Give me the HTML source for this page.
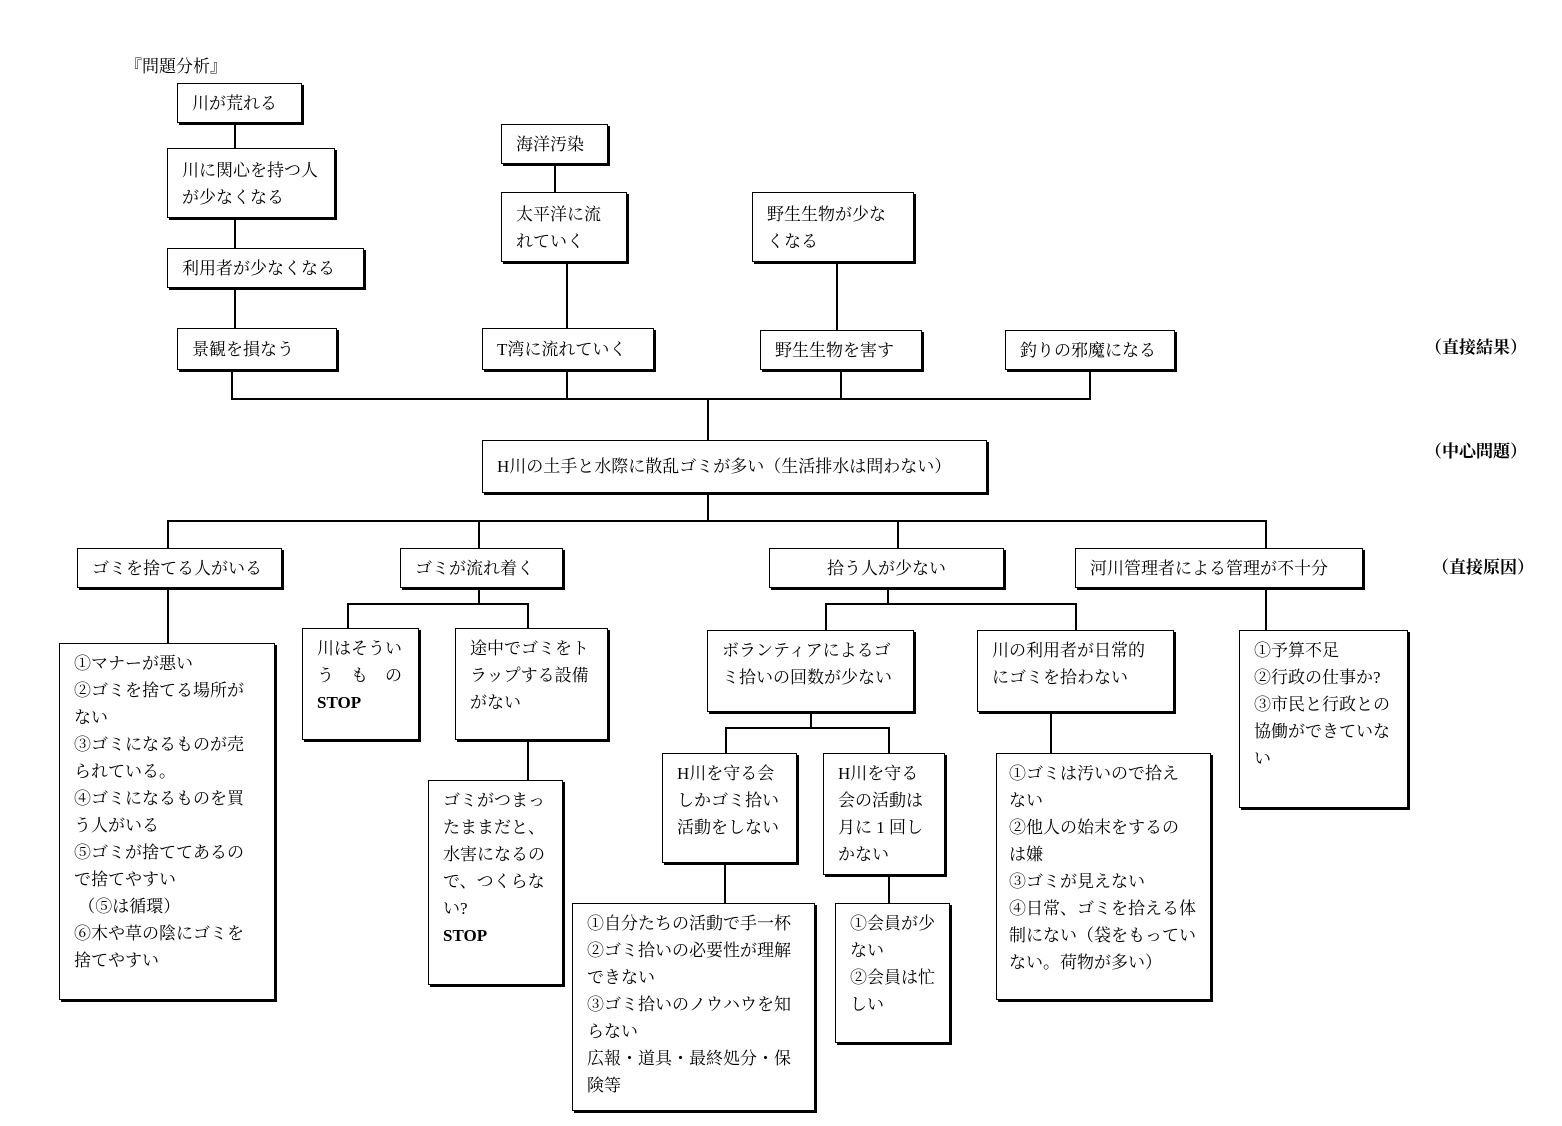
<!DOCTYPE html>
<html><head><meta charset="utf-8"><style>
body{margin:0;background:#fff;}
#c{position:relative;width:1562px;height:1126px;overflow:hidden;font-family:"Liberation Serif","Noto Serif CJK SC","Noto Sans CJK JP",serif;font-size:17px;color:#000;}
.b{position:absolute;border:1.5px solid #000;box-shadow:2px 2px 0 #000;box-sizing:border-box;background:#fff;padding:6px 14px;line-height:27px;}
.c{display:flex;align-items:center;}
.l{position:absolute;background:#000;}
.t{position:absolute;font-weight:bold;}
</style></head><body><div id="c">
<div class="t" style="left:125px;top:52px;font-weight:normal">『問題分析』</div>
<div class="t" style="left:1425px;top:333px">（直接結果）</div>
<div class="t" style="left:1425px;top:437px">（中心問題）</div>
<div class="t" style="left:1432px;top:553px">（直接原因）</div>

<div class="l" style="left:234px;top:123px;width:1.5px;height:25px"></div>
<div class="l" style="left:234px;top:218px;width:1.5px;height:30px"></div>
<div class="l" style="left:234px;top:288px;width:1.5px;height:40px"></div>
<div class="l" style="left:554px;top:164px;width:1.5px;height:28px"></div>
<div class="l" style="left:566px;top:262px;width:1.5px;height:66px"></div>
<div class="l" style="left:836px;top:262px;width:1.5px;height:68px"></div>
<div class="l" style="left:231px;top:398px;width:860px;height:1.5px"></div>
<div class="l" style="left:231px;top:370px;width:1.5px;height:28px"></div>
<div class="l" style="left:566px;top:370px;width:1.5px;height:28px"></div>
<div class="l" style="left:840px;top:370px;width:1.5px;height:28px"></div>
<div class="l" style="left:1089px;top:370px;width:1.5px;height:28px"></div>
<div class="l" style="left:707px;top:398px;width:1.5px;height:42px"></div>
<div class="l" style="left:707px;top:493px;width:1.5px;height:27px"></div>
<div class="l" style="left:167px;top:520px;width:1099px;height:1.5px"></div>
<div class="l" style="left:167px;top:520px;width:1.5px;height:28px"></div>
<div class="l" style="left:478px;top:520px;width:1.5px;height:28px"></div>
<div class="l" style="left:897px;top:520px;width:1.5px;height:28px"></div>
<div class="l" style="left:1265px;top:520px;width:1.5px;height:28px"></div>
<div class="l" style="left:167px;top:588px;width:1.5px;height:55px"></div>
<div class="l" style="left:478px;top:588px;width:1.5px;height:15px"></div>
<div class="l" style="left:347px;top:603px;width:181px;height:1.5px"></div>
<div class="l" style="left:347px;top:603px;width:1.5px;height:25px"></div>
<div class="l" style="left:527px;top:603px;width:1.5px;height:25px"></div>
<div class="l" style="left:527px;top:740px;width:1.5px;height:40px"></div>
<div class="l" style="left:887px;top:588px;width:1.5px;height:15px"></div>
<div class="l" style="left:825px;top:603px;width:251px;height:1.5px"></div>
<div class="l" style="left:825px;top:603px;width:1.5px;height:27px"></div>
<div class="l" style="left:1075px;top:603px;width:1.5px;height:27px"></div>
<div class="l" style="left:810px;top:712px;width:1.5px;height:15px"></div>
<div class="l" style="left:725px;top:727px;width:164px;height:1.5px"></div>
<div class="l" style="left:725px;top:727px;width:1.5px;height:26px"></div>
<div class="l" style="left:888px;top:727px;width:1.5px;height:26px"></div>
<div class="l" style="left:724px;top:863px;width:1.5px;height:40px"></div>
<div class="l" style="left:888px;top:875px;width:1.5px;height:28px"></div>
<div class="l" style="left:1050px;top:712px;width:1.5px;height:41px"></div>
<div class="l" style="left:1265px;top:588px;width:1.5px;height:42px"></div>

<div class="b c" style="left:177px;top:83px;width:125px;height:40px">川が荒れる</div>
<div class="b" style="left:167px;top:148px;width:168px;height:70px;padding-top:8px">川に関心を持つ人<br>が少なくなる</div>
<div class="b c" style="left:167px;top:248px;width:197px;height:40px">利用者が少なくなる</div>
<div class="b c" style="left:177px;top:328px;width:160px;height:42px">景観を損なう</div>
<div class="b c" style="left:501px;top:124px;width:107px;height:40px">海洋汚染</div>
<div class="b" style="left:501px;top:192px;width:126px;height:70px;padding-top:8px">太平洋に流<br>れていく</div>
<div class="b c" style="left:482px;top:328px;width:172px;height:42px">T湾に流れていく</div>
<div class="b" style="left:752px;top:192px;width:162px;height:70px;padding-top:8px">野生生物が少な<br>くなる</div>
<div class="b c" style="left:760px;top:330px;width:162px;height:40px">野生生物を害す</div>
<div class="b c" style="left:1005px;top:330px;width:170px;height:40px">釣りの邪魔になる</div>
<div class="b c" style="left:482px;top:440px;width:505px;height:53px">H川の土手と水際に散乱ゴミが多い（生活排水は問わない）</div>
<div class="b c" style="left:77px;top:548px;width:205px;height:40px">ゴミを捨てる人がいる</div>
<div class="b c" style="left:400px;top:548px;width:163px;height:40px">ゴミが流れ着く</div>
<div class="b c" style="left:769px;top:548px;width:235px;height:40px;justify-content:center">拾う人が少ない</div>
<div class="b c" style="left:1075px;top:548px;width:288px;height:40px">河川管理者による管理が不十分</div>
<div class="b" style="left:59px;top:643px;width:216px;height:357px">①マナーが悪い<br>②ゴミを捨てる場所が<br>ない<br>③ゴミになるものが売<br>られている。<br>④ゴミになるものを買<br>う人がいる<br>⑤ゴミが捨ててあるの<br>で捨てやすい<br>&nbsp;（⑤は循環）<br>⑥木や草の陰にゴミを<br>捨てやすい</div>
<div class="b" style="left:302px;top:628px;width:117px;height:112px">川はそうい<br>う　も　の<br><b>STOP</b></div>
<div class="b" style="left:455px;top:628px;width:153px;height:112px">途中でゴミをト<br>ラップする設備<br>がない</div>
<div class="b" style="left:428px;top:780px;width:135px;height:205px">ゴミがつまっ<br>たままだと、<br>水害になるの<br>で、つくらな<br>い?<br><b>STOP</b></div>
<div class="b" style="left:707px;top:630px;width:207px;height:82px">ボランティアによるゴ<br>ミ拾いの回数が少ない</div>
<div class="b" style="left:977px;top:630px;width:197px;height:82px">川の利用者が日常的<br>にゴミを拾わない</div>
<div class="b" style="left:662px;top:753px;width:135px;height:110px">H川を守る会<br>しかゴミ拾い<br>活動をしない</div>
<div class="b" style="left:823px;top:753px;width:122px;height:122px">H川を守る<br>会の活動は<br>月に 1 回し<br>かない</div>
<div class="b" style="left:572px;top:903px;width:243px;height:208px">①自分たちの活動で手一杯<br>②ゴミ拾いの必要性が理解<br>できない<br>③ゴミ拾いのノウハウを知<br>らない<br>広報・道具・最終処分・保<br>険等</div>
<div class="b" style="left:835px;top:903px;width:115px;height:140px">①会員が少<br>ない<br>②会員は忙<br>しい</div>
<div class="b" style="left:996px;top:753px;width:215px;height:247px;padding:6px 6px 6px 12px;white-space:nowrap;overflow:hidden">①ゴミは汚いので拾え<br>ない<br>②他人の始末をするの<br>は嫌<br>③ゴミが見えない<br>④日常、ゴミを拾える体<br>制にない（袋をもってい<br>ない。荷物が多い）</div>
<div class="b" style="left:1239px;top:630px;width:169px;height:178px">①予算不足<br>②行政の仕事か?<br>③市民と行政との<br>協働ができていな<br>い</div>
</div></body></html>
